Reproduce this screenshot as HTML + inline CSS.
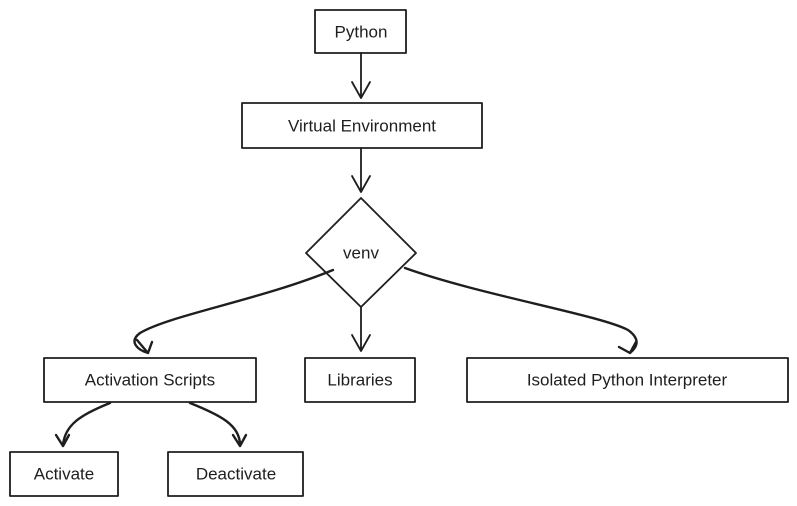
<!DOCTYPE html>
<html><head><meta charset="utf-8"><style>
html,body{margin:0;padding:0;background:#fff;}
svg{display:block;}
text{font-family:"Liberation Sans",sans-serif;font-size:17px;fill:#1e1e1e;text-anchor:middle;dominant-baseline:central;}
</style></head><body>
<svg width="797" height="506" viewBox="0 0 797 506" xmlns="http://www.w3.org/2000/svg">
<g fill="none" stroke="#1e1e1e" stroke-width="1.8" stroke-linecap="round" stroke-linejoin="round">
<rect x="315" y="10" width="91" height="43"/>
<rect x="242" y="103" width="240" height="45"/>
<path d="M361 198 L416 253 L361 307 L306 253 Z"/>
<rect x="44" y="358" width="212" height="44"/>
<rect x="305" y="358" width="110" height="44"/>
<rect x="467" y="358" width="321" height="44"/>
<rect x="10" y="452" width="108" height="44"/>
<rect x="168" y="452" width="135" height="44"/>
<path d="M361 53 L361 98 M352 82 L361 98 L370 82"/>
<path d="M361 148 L361 192 M352 176 L361 192 L370 176"/>
<path d="M361 307 L361 351 M352 335 L361 351 L370 335"/>
<path d="M333 270 C260 300 170 315 140 333 C128 342 138 350 148 353 M137 340 L148 353 M152 342 L148 353" stroke-width="2.4"/>
<path d="M405 268 C480 295 600 315 628 330 C642 340 636 348 630 353 M619 347 L630 353 M636 342 L630 353" stroke-width="2.4"/>
<path d="M110 403 C80 415 65 425 63 445 M56 435 L63 446 L69 435" stroke-width="2.4"/>
<path d="M190 403 C220 415 240 425 240 445 M233 435 L240 446 L246 435" stroke-width="2.4"/>
</g>
<text x="361" y="32">Python</text>
<text x="362" y="126">Virtual Environment</text>
<text x="361" y="253">venv</text>
<text x="150" y="380">Activation Scripts</text>
<text x="360" y="380">Libraries</text>
<text x="627" y="380">Isolated Python Interpreter</text>
<text x="64" y="474">Activate</text>
<text x="236" y="474">Deactivate</text>
</svg>
</body></html>
